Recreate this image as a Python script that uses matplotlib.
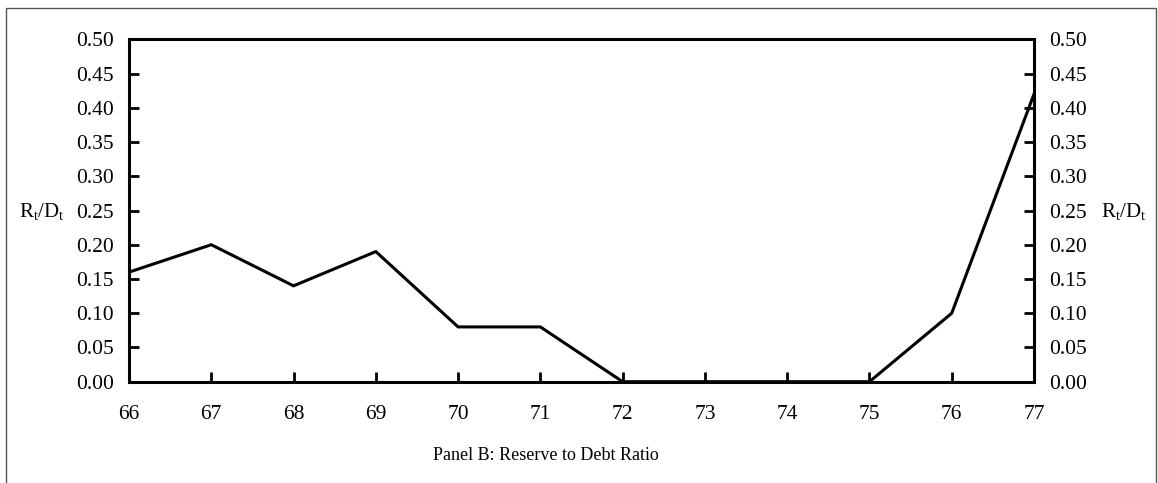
import matplotlib
matplotlib.use("Agg")
import matplotlib.pyplot as plt
from matplotlib.patches import Rectangle

years = [66, 67, 68, 69, 70, 71, 72, 73, 74, 75, 76, 77]
ratio = [0.16, 0.20, 0.14, 0.19, 0.08, 0.08, 0.00, 0.00, 0.00, 0.00, 0.10, 0.42]
yticks = [0.00, 0.05, 0.10, 0.15, 0.20, 0.25, 0.30, 0.35, 0.40, 0.45, 0.50]

plt.rcParams['font.family'] = ['Liberation Serif', 'DejaVu Serif']
plt.rcParams['mathtext.fontset'] = 'custom'
plt.rcParams['mathtext.rm'] = 'Liberation Serif'
plt.rcParams['mathtext.it'] = 'Liberation Serif:italic'

W, H = 1158, 483
fig = plt.figure(figsize=(W / 100, H / 100), dpi=100)
ax = fig.add_axes([129 / W, 1 - 381.7 / H, (1034 - 129) / W, (381.7 - 39.3) / H])

ax.plot(years, ratio, color='black', lw=2.2, solid_joinstyle='miter')
ax.set_xlim(66, 77)
ax.set_ylim(0, 0.5)
ax.set_xticks(years)
ax.set_yticks(yticks)
ax.set_yticklabels([f"{v:.2f}" for v in yticks])
ax.tick_params(axis='both', direction='in', length=7, width=2, labelsize=15.5, pad=11)
ax.tick_params(axis='y', left=True, right=True, labelleft=True, labelright=True)
ax.tick_params(axis='x', pad=17)
for s in ax.spines.values():
    s.set_linewidth(2.2)

lab = r'R$_\mathrm{t}$/D$_\mathrm{t}$'
fig.text(42 / W, 1 - 212 / H, lab, fontsize=15, ha='center', va='center')
fig.text(1124 / W, 1 - 212 / H, lab, fontsize=15, ha='center', va='center')
fig.text(546 / W, 1 - 455 / H, 'Panel B: Reserve to Debt Ratio', fontsize=13, ha='center', va='center')

fig.patches.append(Rectangle((6 / W, -0.1), (1156 - 6) / W, 1.1 - 8 / H, transform=fig.transFigure,
                             fill=False, edgecolor='#555555', lw=1))

fig.savefig('out.png', dpi=100)
